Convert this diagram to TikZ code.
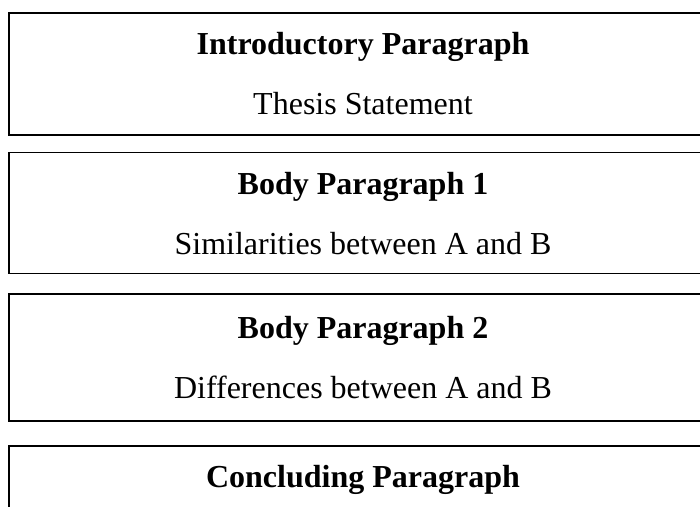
\documentclass[tikz,border=0pt]{standalone}
\usepackage{fontspec}
\setmainfont{Liberation Serif}
\usetikzlibrary{positioning}

\begin{document}
\begin{tikzpicture}[x=1pt, y=1pt,
          parabox/.style={draw=black, line width=1.6pt, rectangle,
                          minimum width=708pt, align=center,
                          font=\fontsize{32}{60}\selectfont, inner sep=0pt}
        ]
        \useasboundingbox (0,0) rectangle (700,-506);
        \clip (0,0) rectangle (700,-506);
        \node[parabox, minimum height=122pt] (intro) at (363,-74)
          {\textbf{Introductory Paragraph}\\ Thesis Statement};
        \node[parabox, minimum height=121pt, below=16pt of intro] (body1)
          {\textbf{Body Paragraph 1}\\ Similarities between A and B};
        \node[parabox, minimum height=127pt, below=19pt of body1] (body2)
          {\textbf{Body Paragraph 2}\\ Differences between A and B};
        \node[parabox, minimum height=122pt, below=23pt of body2] (concl)
          {\textbf{Concluding Paragraph}\\ \mbox{}};
      \end{tikzpicture}
\end{document}
